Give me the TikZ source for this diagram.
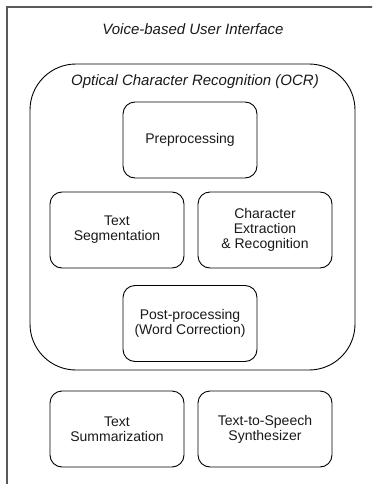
\documentclass[tikz,border=0pt]{standalone}
\usepackage{fontspec}
\setmainfont{Liberation Sans}
\usepackage{tikz}
\usetikzlibrary{positioning}

\begin{document}
\begin{tikzpicture}[
  x=1pt, y=-1pt,
  module/.style={draw, rounded corners=12pt, line width=0.9pt, minimum width=134pt, minimum height=76pt, align=center, inner sep=2pt, font=\fontsize{14}{15}\selectfont, text=black!90},
  group/.style={draw, rounded corners=46pt, line width=0.9pt, minimum width=325pt, minimum height=306pt},
  caption/.style={font=\fontsize{15}{17}\selectfont\itshape, text=black!90},
]
\useasboundingbox (0,0) rectangle (372,484);
\clip (0,0) rectangle (372,484);

% outer frame (cut off at right and bottom)
\draw[line width=1.6pt, black!65] (7,500) -- (7,7) -- (390,7);
\node[caption] (ui) at (193,29) {Voice-based User Interface};

% OCR group
\node[group] (ocr) at (192.5,217) {};
\node[caption] (ocrlabel) at (195,82) {Optical Character Recognition (OCR)};

\node[module] (pre) at (190,140) {Preprocessing};
\node[module] (seg) at (117,230) {Text\\Segmentation};
\node[module] (chr) at (265,230) {Character\\Extraction\\\& Recognition};
\node[module] (post) at (190,323.5) {Post-processing\\(Word Correction)};

% outside OCR
\node[module] (summ) at (117,429) {Text\\Summarization};
\node[module] (tts) at (265,429) {Text-to-Speech\\Synthesizer};

\end{tikzpicture}
\end{document}
